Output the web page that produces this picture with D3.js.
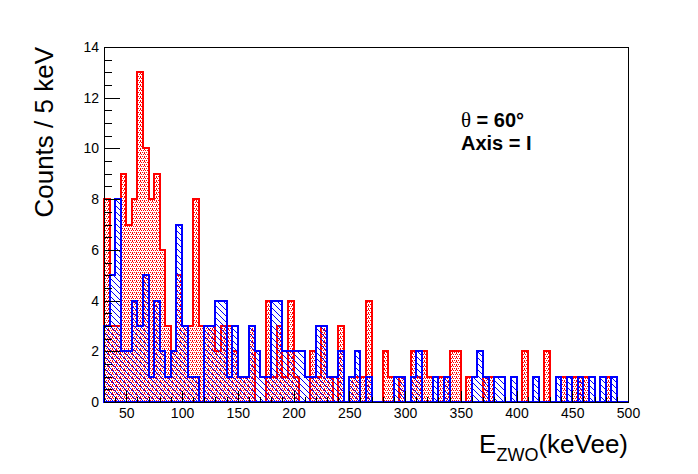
<!DOCTYPE html>
<html>
<head>
<meta charset="utf-8">
<title>E_ZWO spectrum</title>
<script src="https://cdn.jsdelivr.net/npm/d3@7"></script>
<style>
  body { margin: 0; background: #fff; }
  svg { display: block; }
  text { font-family: "Liberation Sans", Arial, Helvetica, sans-serif; }
</style>
</head>
<body>
<div id="chart"></div>
<script>
var width = 698, height = 474;
var frame = {left: 104, right: 628, top: 47, bottom: 402};

// bins of 5 keV from 30 to 500 keVee
var binLow = d3.range(30, 500, 5);

var countsRed = [8,3,3,9,7,8,13,10,8,9, 6,3,2,5,3,3,8,3,3,3,
                 2,3,3,2,1,1,3,0,0,4, 1,3,1,4,1,0,0,2,1,3,
                 1,0,3,0,1,1,1,4,0,0, 2,1,0,1,0,2,1,2,1,0,
                 1,1,2,2,0,1,0,0,1,1, 0,0,0,0,0,2,0,0,0,2,
                 0,0,1,0,1,1,1,0,0,0, 1,0,0,0];

var countsBlue = [3,5,8,2,2,4,3,5,1,4, 2,1,2,7,3,1,1,0,3,3,
                  4,4,1,3,1,1,3,2,1,1, 4,4,2,2,2,2,1,1,3,3,
                  1,1,2,0,1,2,0,1,0,0, 0,0,1,1,0,1,2,0,0,1,
                  0,1,0,0,0,0,1,2,1,0, 1,1,0,1,0,0,0,1,0,0,
                  0,1,0,1,0,1,0,1,0,1, 0,1,0,0];

var yTicks = [0, 2, 4, 6, 8, 10, 12, 14];
var xTicks = [50, 100, 150, 200, 250, 300, 350, 400, 450, 500];

var x = d3.scaleLinear().domain([30, 500]).range([frame.left, frame.right]);
var y = d3.scaleLinear().domain([0, 14]).range([frame.bottom, frame.top]);

var svg = d3.select("#chart").append("svg")
    .attr("width", width)
    .attr("height", height);

var defs = svg.append("defs");

// dotted fill (red)
var dots = defs.append("pattern")
    .attr("id", "dots")
    .attr("patternUnits", "userSpaceOnUse")
    .attr("width", 4).attr("height", 4);
[[0,0],[2,0],[1,2],[3,2],[0,1]].forEach(function(d){
  dots.append("rect").attr("x", d[0]).attr("y", d[1]).attr("width", 1).attr("height", 1)
      .attr("fill", "#ff0000").attr("shape-rendering", "crispEdges");
});

// hatch fill (blue)
var hatch = defs.append("pattern")
    .attr("id", "hatch")
    .attr("patternUnits", "userSpaceOnUse")
    .attr("width", 6).attr("height", 6);
hatch.append("path")
    .attr("d", "M-1,-1L7,7M-1,5L1,7M5,-1L7,1")
    .attr("stroke", "#0000ff")
    .attr("stroke-width", 1);

function histPath(counts) {
  var p = d3.path();
  p.moveTo(x(30), y(0));
  counts.forEach(function(c, i) {
    p.lineTo(x(binLow[i]), y(c));
    p.lineTo(x(binLow[i] + 5), y(c));
  });
  p.lineTo(x(500), y(0));
  p.closePath();
  return p.toString();
}

svg.append("path")
    .attr("d", histPath(countsRed))
    .attr("fill", "url(#dots)")
    .attr("stroke", "#ff0000")
    .attr("stroke-width", 2)
    .attr("shape-rendering", "crispEdges");

svg.append("path")
    .attr("d", histPath(countsBlue))
    .attr("fill", "url(#hatch)")
    .attr("stroke", "#0000ff")
    .attr("stroke-width", 2)
    .attr("shape-rendering", "crispEdges");

// axes, ticks inside the frame like ROOT
svg.append("g")
    .attr("transform", "translate(" + frame.left + ",0)")
    .call(d3.axisLeft(y).tickValues(yTicks).tickSize(-16).tickPadding(5).tickFormat(d3.format("d")));
svg.append("g")
    .attr("transform", "translate(" + frame.left + ",0)")
    .call(d3.axisLeft(y).tickValues(d3.range(0.5, 14, 0.5).filter(function(v){ return v % 2 != 0; }))
      .tickSize(-8).tickFormat(""));

svg.append("g")
    .attr("transform", "translate(0," + frame.bottom + ")")
    .call(d3.axisBottom(x).tickValues(xTicks).tickSize(-11).tickPadding(6).tickFormat(d3.format("d")));
svg.append("g")
    .attr("transform", "translate(0," + frame.bottom + ")")
    .call(d3.axisBottom(x).tickValues(d3.range(40, 500, 10).filter(function(v){ return v % 50 != 0; }))
      .tickSize(-5.5).tickFormat(""));

svg.selectAll(".domain").remove();
svg.selectAll(".tick line").attr("stroke", "#000").attr("shape-rendering", "crispEdges");
svg.selectAll(".tick text").attr("font-size", 14).attr("fill", "#000")
    .style("font-family", "'Liberation Sans', Arial, sans-serif");

svg.append("rect")
    .attr("x", frame.left).attr("y", frame.top)
    .attr("width", frame.right - frame.left)
    .attr("height", frame.bottom - frame.top)
    .attr("fill", "none")
    .attr("stroke", "#000")
    .attr("stroke-width", 1)
    .attr("shape-rendering", "crispEdges");

// titles
svg.append("text")
    .attr("transform", "translate(53," + frame.top + ") rotate(-90)")
    .attr("text-anchor", "end")
    .attr("font-size", 26)
    .text("Counts / 5 keV");

var xt = svg.append("text")
    .attr("x", frame.right)
    .attr("y", 453)
    .attr("text-anchor", "end")
    .attr("font-size", 26);
xt.append("tspan").text("E");
xt.append("tspan").attr("font-size", 18).attr("dy", 8).text("ZWO");
xt.append("tspan").attr("dy", -8).text("(keVee)");

var t1 = svg.append("text")
    .attr("x", 461).attr("y", 127)
    .attr("font-size", 20).attr("font-weight", "bold");
t1.append("tspan").style("font-family", "'Liberation Serif', 'DejaVu Serif', serif")
    .attr("font-weight", "normal").attr("font-size", 21).text("\u03b8");
t1.append("tspan").text(" = 60\u00b0");
svg.append("text")
    .attr("x", 461).attr("y", 150)
    .attr("font-size", 20).attr("font-weight", "bold")
    .text("Axis = I");
</script>
</body>
</html>
